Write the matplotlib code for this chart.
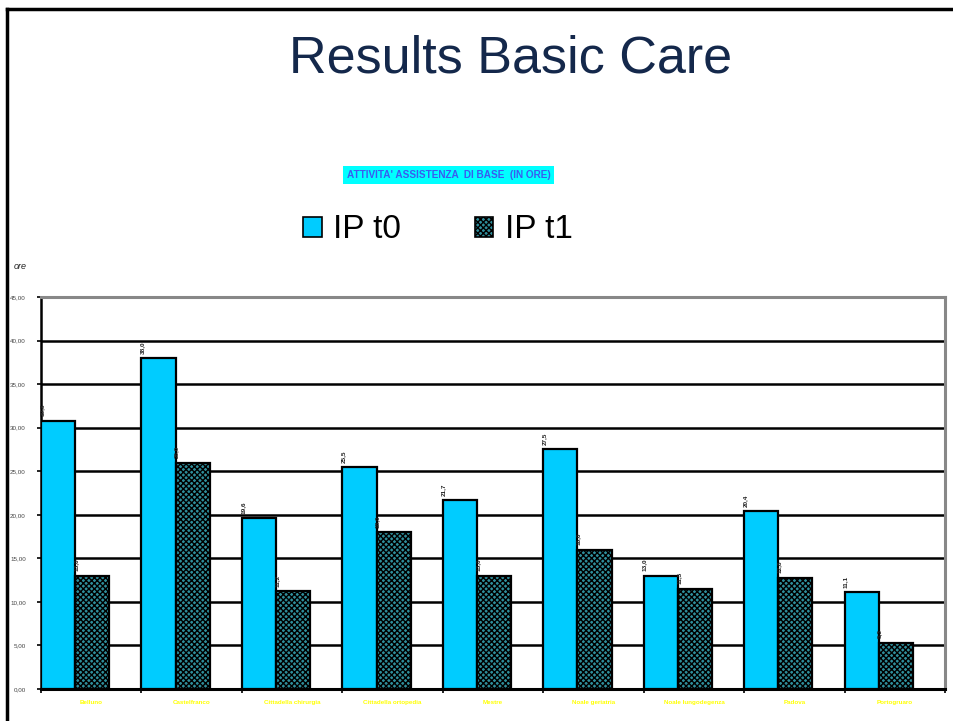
import matplotlib
matplotlib.use("Agg")
import matplotlib.pyplot as plt
import numpy as np
from matplotlib.lines import Line2D
from matplotlib.patches import Patch

plt.rcParams['font.family'] = ['Liberation Sans', 'DejaVu Sans']
plt.rcParams['hatch.linewidth'] = 1.0

categories = ["Belluno", "Castelfranco", "Cittadella chirurgia", "Cittadella ortopedia",
              "Mestre", "Noale geriatria", "Noale lungodegenza", "Padova", "Portogruaro"]
ip_t0 = [30.8, 38.0, 19.6, 25.5, 21.7, 27.5, 13.0, 20.4, 11.1]
ip_t1 = [13.0, 26.0, 11.2, 18.0, 13.0, 16.0, 11.5, 12.8, 5.3]
y_ticks = [0, 5, 10, 15, 20, 25, 30, 35, 40, 45]

fig = plt.figure(figsize=(9.54, 7.21), dpi=100)

# slide frame lines (top and left)
fig.add_artist(Line2D([0.007, 1.0], [0.9875, 0.9875], color='black', lw=2.5,
                      transform=fig.transFigure))
fig.add_artist(Line2D([0.007, 0.007], [0.0, 0.9875], color='black', lw=2.5,
                      transform=fig.transFigure))

fig.text(0.535, 0.918, "Results Basic Care", ha='center', va='center',
         fontsize=37.5, color='#14284b')

fig.text(0.470, 0.757, "ATTIVITA' ASSISTENZA  DI BASE  (IN ORE)", ha='center', va='center',
         fontsize=7.2, fontweight='bold', color='#3a5cf0',
         bbox=dict(boxstyle='square,pad=0.4', facecolor='#00ffff', edgecolor='none'))

ax = fig.add_axes([0.043, 0.0444, 0.9476, 0.5436])

x = np.arange(len(categories))
w = 0.34
ax.bar(x, ip_t0, width=w, align='edge', color='#00ccff', edgecolor='black',
       linewidth=1.6, zorder=3, label='IP t0')
ax.bar(x + w, ip_t1, width=w, align='edge', color='#2f8f9c', edgecolor='black',
       linewidth=1.6, hatch='xxxxxx', zorder=3, label='IP t1')

def fmt(v):
    return f"{v:.1f}".replace('.', ',')

for xi, v in zip(x, ip_t0):
    ax.text(xi + 0.01, v + 0.5, fmt(v), rotation=90, ha='center', va='bottom',
            fontsize=4.6, fontweight='bold', color='#222222', zorder=4)
for xi, v in zip(x, ip_t1):
    ax.text(xi + w + 0.01, v + 0.5, fmt(v), rotation=90, ha='center', va='bottom',
            fontsize=4.6, fontweight='bold', color='#222222', zorder=4)

ax.set_xlim(0, len(categories))
ax.set_ylim(0, 45)
ax.set_yticks(y_ticks)
ax.set_yticklabels([f"{t:.2f}".replace('.', ',') for t in y_ticks], fontsize=4.5,
                   color='#444444')
ax.tick_params(axis='y', length=3, width=1.2, color='black', pad=8)

for t in y_ticks[1:-1]:
    ax.axhline(t, color='black', lw=1.8, zorder=1)

ax.set_xticks(np.arange(len(categories) + 1))
ax.set_xticklabels([])
ax.tick_params(axis='x', length=3, width=1.2, color='black', direction='out')
for xi, c in zip(x, categories):
    ax.text(xi + 0.5, -1.5, c, ha='center', va='center', fontsize=4.5,
            fontweight='bold', color='#ffff00')

ax.spines['left'].set_color('black')
ax.spines['left'].set_linewidth(1.8)
ax.spines['bottom'].set_color('black')
ax.spines['bottom'].set_linewidth(2.2)
ax.spines['top'].set_color('#888888')
ax.spines['top'].set_linewidth(2.2)
ax.spines['right'].set_color('#888888')
ax.spines['right'].set_linewidth(2.2)

fig.text(0.014, 0.631, "ore", ha='left', va='center', fontsize=6.5,
         style='italic', color='#222222')

handles = [Patch(facecolor='#00ccff', edgecolor='black', linewidth=1.2),
           Patch(facecolor='#2f8f9c', edgecolor='black', linewidth=1.2, hatch='xxxxxx')]
fig.legend(handles, ['IP t0', 'IP t1'], loc='center', bbox_to_anchor=(0.459, 0.681),
           ncol=2, frameon=False, fontsize=24, handlelength=0.55, handleheight=0.55,
           handletextpad=0.35, columnspacing=2.2)

fig.savefig("out.png", dpi=100)
